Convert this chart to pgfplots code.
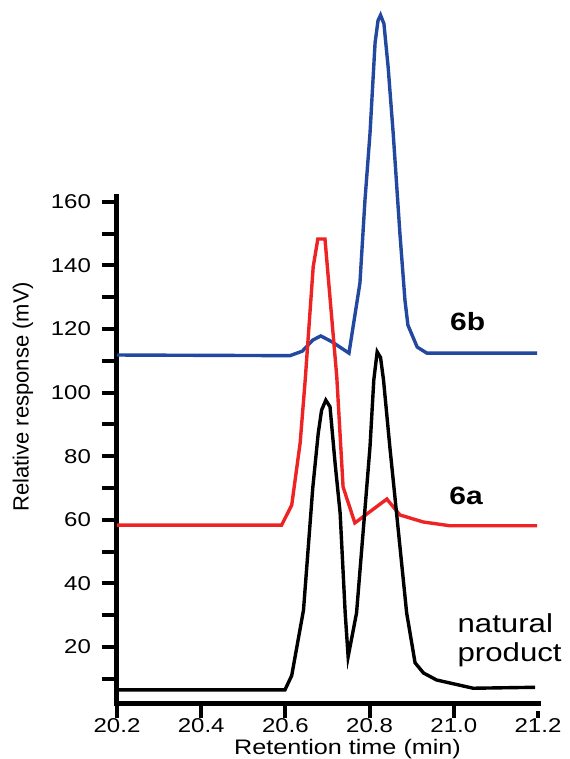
\documentclass[border=0pt]{standalone}
\usepackage{pgfplots}
\pgfplotsset{compat=1.18}
\usepackage{fontspec}
\setmainfont[FakeStretch=1.2]{Liberation Sans}
\newfontfamily\plainfont{Liberation Sans}

\definecolor{trblue}{RGB}{35,72,160}
\definecolor{trred}{RGB}{238,36,36}

\begin{document}
\begin{tikzpicture}
\path[use as bounding box] (-58.5pt,-28pt) rectangle (226pt,351.5pt);
\begin{axis}[
    scale only axis,
    width=210.5pt, height=253pt,
    xmin=20.2, xmax=21.2,
    ymin=2.36, ymax=161.5,
    axis lines=left,
    axis line style={-},
    x axis line style={line width=2.5pt},
    y axis line style={line width=2.5pt},
    clip=false,
    xtick={20.2,20.4,20.6,20.8,21.0,21.2},
    ytick={20,40,...,160},
    minor ytick={10,30,...,150},
    tick align=outside,
    major tick length=7.5pt,
    minor tick length=7.5pt,
    xtick style={line width=2pt, black, shorten >=4pt},
    ytick style={line width=2pt, black},
    minor tick style={line width=2pt, black},
    /pgf/number format/assume math mode=true,
    xticklabel style={font=\fontsize{10}{12}\selectfont, yshift=3.5pt,
        /pgf/number format/.cd, fixed, fixed zerofill, precision=1},
    yticklabel style={font=\fontsize{10}{12}\selectfont, xshift=-2pt,
        /pgf/number format/.cd, fixed, precision=0},
    xlabel={Retention time (min)},
    ylabel={\plainfont Relative response (mV)},
    every axis x label/.style={at={(axis description cs:0.5475,0)}, yshift=-23pt,
        anchor=center, font=\fontsize{10.5}{12}\selectfont},
    every axis y label/.style={at={(axis description cs:0,0.605)}, xshift=-47pt,
        rotate=90, anchor=center, font=\fontsize{11}{13}\selectfont},
]
\draw[line width=2.5pt, line cap=rect]
    (rel axis cs:0,1) -- (rel axis cs:0,0) -- (rel axis cs:1,0);
\addplot[trblue, line width=1.7pt] coordinates {
(20.2,111.8)(20.611,111.6)(20.64,113)(20.665,116.5)(20.684,117.8)(20.71,116)
(20.751,112.4)(20.777,134.4)(20.789,160.5)(20.801,181.6)(20.813,210)(20.820,217)
(20.826,218.7)(20.834,216)(20.844,202.4)(20.856,181.6)(20.872,150)(20.884,129)
(20.891,121.2)(20.913,114.3)(20.936,112.4)(21.198,112.4)
};
\addplot[trred, line width=1.7pt] coordinates {
(20.2,58.3)(20.591,58.3)(20.615,64.6)(20.635,84.1)(20.647,103.9)(20.666,139.5)
(20.677,148.3)(20.694,148.3)(20.722,105)(20.737,70.3)(20.765,59)(20.841,66.5)
(20.872,61.5)(20.927,59.3)(20.991,58.1)(21.198,58.1)
};
\addplot[black, line width=1.7pt] coordinates {
(20.2,6.5)(20.599,6.5)(20.615,11)(20.643,31.6)(20.665,70)(20.678,87.2)
(20.686,94.5)(20.696,97.6)(20.706,95.5)(20.718,77.8)(20.73,62.1)(20.742,30.7)
(20.749,16.9)(20.769,30.7)(20.785,56.8)(20.801,83)(20.810,104)(20.818,112.8)
(20.826,111)(20.833,104)(20.848,83)(20.864,62.1)(20.888,30.7)(20.908,15)
(20.928,11.8)(20.959,9.6)(21.046,7.0)(21.193,7.3)
};
\node[font=\bfseries\fontsize{12.5}{14}\selectfont] at (axis cs:21.033,122.3) {6b};
\node[font=\bfseries\fontsize{12.5}{14}\selectfont] at (axis cs:21.029,67.4) {6a};
\node[anchor=west, align=left, inner sep=0pt, font=\fontsize{13}{14.5}\selectfont]
    at (axis cs:21.008,22.2) {natural\\product};
\end{axis}
\end{tikzpicture}
\end{document}
